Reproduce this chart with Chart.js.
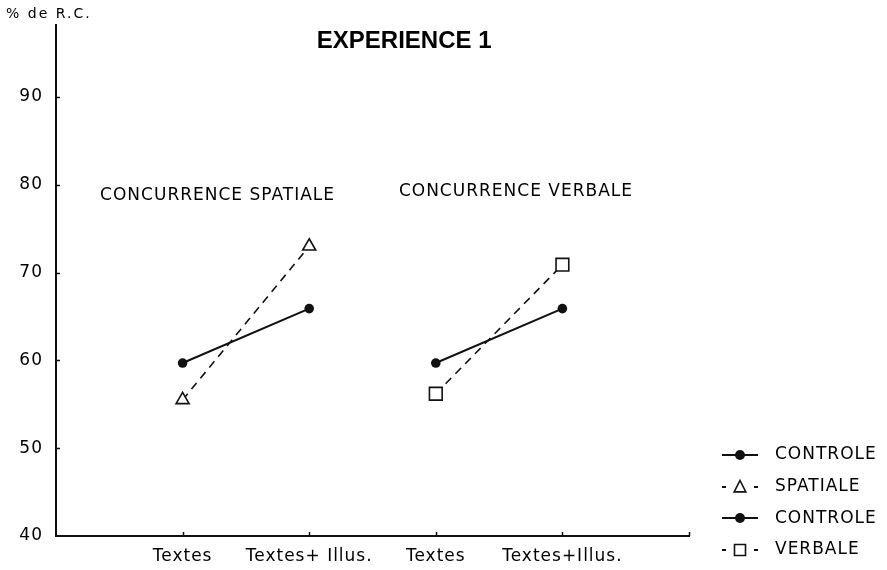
<!DOCTYPE html>
<html>
<head>
<meta charset="utf-8">
<script src="https://cdn.jsdelivr.net/npm/chart.js@4.4.1/dist/chart.umd.min.js"></script>
<style>
  html, body { margin: 0; padding: 0; background: #fff; }
  #wrap { width: 887px; height: 570px; }
</style>
</head>
<body>
<div id="wrap"><canvas id="myChart"></canvas></div>
<script>
// x axis categories (placed at 1..4 on a linear axis)
const categories = ['Textes', 'Textes+ Illus.', 'Textes', 'Textes+Illus.'];
const yTicks = [40, 50, 60, 70, 80, 90];

// % de R.C. per condition
const controleSpatiale = [59.7, 65.9];
const spatiale = [55.5, 73.0];
const controleVerbale = [59.7, 65.9];
const verbale = [56.2, 70.9];

const groupTitles = ['CONCURRENCE SPATIALE', 'CONCURRENCE VERBALE'];
const chartTitle = 'EXPERIENCE 1';
const yAxisTitle = '% de R.C.';

const INK = '#111';
const FONT = "'DejaVu Sans', sans-serif";

// group 1 sits on categories 1-2, group 2 on 3-4
const toPoints = (vals, start) => vals.map((v, i) => ({x: start + i, y: v}));

function spacing(chart) {
  chart.ctx.letterSpacing = '1px';
}

// inward tick marks, title, group labels and the legend
const decorations = {
  id: 'decorations',
  beforeLayout: spacing,
  beforeDraw: spacing,
  afterDraw(chart) {
    const ctx = chart.ctx;
    const {left, right, top, bottom} = chart.chartArea;
    const xs = chart.scales.x, ys = chart.scales.y;
    ctx.save();
    ctx.strokeStyle = INK;
    ctx.lineWidth = 1.5;
    ctx.beginPath();
    ys.ticks.forEach((t, i) => {
      if (t.value === ys.min) return;
      const py = Math.round(ys.getPixelForTick(i)) + 0.5;
      ctx.moveTo(left, py); ctx.lineTo(left + 4, py);
    });
    xs.ticks.forEach((t, i) => {
      const px = Math.round(xs.getPixelForTick(i)) + 0.5;
      ctx.moveTo(px, bottom); ctx.lineTo(px, bottom - 4);
    });
    ctx.stroke();

    ctx.fillStyle = '#000';
    ctx.textBaseline = 'middle';

    // axis title above the y axis
    ctx.letterSpacing = '2px';
    ctx.font = '14px ' + FONT;
    ctx.textAlign = 'left';
    ctx.fillText(yAxisTitle, 6, top - 11);

    // chart title
    ctx.letterSpacing = '0px';
    ctx.font = "bold 24px 'Liberation Sans', Arial, sans-serif";
    ctx.textAlign = 'center';
    ctx.fillText(chartTitle, xs.getPixelForValue(2.75), top + 16);

    // group labels
    ctx.letterSpacing = '1px';
    ctx.font = '17px ' + FONT;
    ctx.fillText(groupTitles[0], xs.getPixelForValue(1.276), ys.getPixelForValue(78.8));
    ctx.fillText(groupTitles[1], xs.getPixelForValue(3.633), ys.getPixelForValue(79.2));

    // legend, bottom right
    ctx.textAlign = 'left';
    const n = chart.data.datasets.length;
    chart.data.datasets.forEach((ds, i) => {
      const y = bottom + 14 - (n - 1 - i) * 31.7;
      drawSample(ctx, ds, right + 33, Math.round(y), 36);
      ctx.fillStyle = '#000';
      ctx.fillText(ds.label, right + 86, y);
    });
    ctx.restore();
  }
};

function drawMarker(ctx, style, x, y, r) {
  ctx.beginPath();
  if (style === 'circle') {
    ctx.arc(x, y, r, 0, Math.PI * 2);
    ctx.fillStyle = INK;
    ctx.fill();
    return;
  }
  if (style === 'triangle') {
    ctx.moveTo(x, y - r);
    ctx.lineTo(x + r * 0.9, y + r * 0.75);
    ctx.lineTo(x - r * 0.9, y + r * 0.75);
    ctx.closePath();
  } else {
    ctx.rect(x - r, y - r, 2 * r, 2 * r);
  }
  ctx.fillStyle = '#fff';
  ctx.fill();
  ctx.setLineDash([]);
  ctx.stroke();
}

function drawSample(ctx, ds, x, y, w) {
  ctx.save();
  ctx.strokeStyle = INK;
  ctx.lineWidth = 2;
  ctx.beginPath();
  if (ds.borderDash && ds.borderDash.length) {
    ctx.moveTo(x, y); ctx.lineTo(x + 4, y);
    ctx.moveTo(x + w - 4, y); ctx.lineTo(x + w, y);
  } else {
    ctx.moveTo(x, y); ctx.lineTo(x + w, y);
  }
  ctx.stroke();
  ctx.lineWidth = 1.6;
  const r = ds.pointStyle === 'circle' ? 5 : (ds.pointStyle === 'triangle' ? 6.5 : 5.5);
  drawMarker(ctx, ds.pointStyle, x + w / 2, y, r);
  ctx.restore();
}

Chart.defaults.font.family = FONT;
Chart.defaults.font.size = 17;
Chart.defaults.color = '#000';

const solid = {borderColor: INK, borderWidth: 2, pointStyle: 'circle', pointRadius: 4.8,
  pointBackgroundColor: INK, pointBorderColor: INK, pointBorderWidth: 0};
const dashed = {borderColor: INK, borderWidth: 1.6, borderDash: [8, 6], pointBackgroundColor: '#fff',
  pointBorderColor: INK, pointBorderWidth: 1.6};

const ctx = document.getElementById('myChart').getContext('2d');
const myChart = new Chart(ctx, {
  type: 'line',
  data: {
    datasets: [
      Object.assign({label: 'CONTROLE', data: toPoints(controleSpatiale, 1)}, solid),
      Object.assign({label: 'SPATIALE', data: toPoints(spatiale, 1), pointStyle: 'triangle', pointRadius: 7.5}, dashed),
      Object.assign({label: 'CONTROLE', data: toPoints(controleVerbale, 3)}, solid),
      Object.assign({label: 'VERBALE', data: toPoints(verbale, 3), pointStyle: 'rect', pointRadius: 9}, dashed)
    ]
  },
  options: {
    responsive: true,
    maintainAspectRatio: false,
    animation: false,
    layout: {padding: {top: 25, right: 198, bottom: 0, left: 0}},
    plugins: {legend: {display: false}, tooltip: {enabled: false}},
    elements: {line: {tension: 0, fill: false}},
    scales: {
      x: {
        type: 'linear',
        min: 0,
        max: 5,
        afterBuildTicks: scale => { scale.ticks = [1, 2, 3, 4, 5].map(v => ({value: v})); },
        afterFit: scale => { scale.height = 34; },
        grid: {display: false, drawTicks: false},
        border: {display: true, color: INK, width: 2},
        ticks: {padding: 10, maxRotation: 0, autoSkip: false,
          callback: v => categories[v - 1] || ''}
      },
      y: {
        min: 40,
        max: 98.2,
        afterBuildTicks: scale => { scale.ticks = yTicks.map(v => ({value: v})); },
        afterFit: scale => { scale.width = 56; },
        grid: {display: false, drawTicks: false},
        border: {display: true, color: INK, width: 2},
        ticks: {padding: 13}
      }
    }
  },
  plugins: [decorations]
});
</script>
</body>
</html>
